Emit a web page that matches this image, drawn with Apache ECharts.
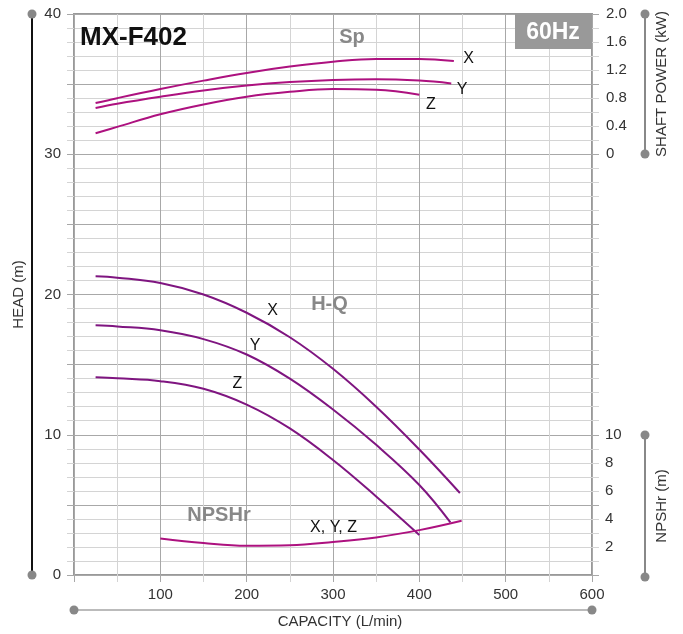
<!DOCTYPE html>
<html><head><meta charset="utf-8">
<script src="https://cdn.jsdelivr.net/npm/echarts@6/dist/echarts.min.js"></script>
<style>html,body{margin:0;padding:0;background:#fff}#c{width:683px;height:634px}</style>
</head><body><div id="c"></div>
<script>
// ---- tick labels ----
const capacityTicks = [100, 200, 300, 400, 500, 600];
const headTicks = [0, 10, 20, 30, 40];
const powerTicks = [0, 0.4, 0.8, 1.2, 1.6, 2.0];
const npshTicks = [2, 4, 6, 8, 10];

// ---- H-Q curves (capacity L/min, head m) ----
const hqQ_X = [25, 50, 100, 150, 200, 250, 300, 350, 400, 447];
const hqH_X = [21.3, 21.2, 20.82, 20.0, 18.7, 16.95, 14.7, 12.0, 8.95, 5.85];
const hqQ_Y = [25, 50, 100, 150, 200, 250, 300, 350, 400, 436];
const hqH_Y = [17.8, 17.72, 17.45, 16.82, 15.72, 14.0, 11.8, 9.28, 6.42, 3.75];
const hqQ_Z = [25, 50, 100, 150, 200, 250, 300, 350, 400];
const hqH_Z = [14.1, 14.02, 13.82, 13.28, 12.15, 10.45, 8.2, 5.6, 2.85];

// ---- Shaft power curves (capacity L/min, kW) ----
const spQ_X = [25, 50, 100, 150, 200, 250, 300, 350, 400, 440];
const spP_X = [0.73, 0.80, 0.93, 1.05, 1.16, 1.25, 1.32, 1.36, 1.36, 1.33];
const spQ_Y = [25, 50, 100, 150, 200, 250, 300, 350, 400, 437];
const spP_Y = [0.66, 0.72, 0.82, 0.91, 0.98, 1.03, 1.06, 1.07, 1.05, 1.01];
const spQ_Z = [25, 50, 100, 150, 200, 250, 300, 350, 400];
const spP_Z = [0.30, 0.39, 0.57, 0.71, 0.82, 0.89, 0.93, 0.92, 0.85];

// ---- NPSHr (capacity L/min, m) ----
const npQ = [100, 150, 200, 250, 300, 350, 400, 449];
const npH = [2.6, 2.28, 2.09, 2.12, 2.35, 2.68, 3.2, 3.87];

const pair = (q, v) => q.map((x, i) => [x, v[i]]);
const FONT = '"Liberation Sans", Arial, Helvetica, sans-serif';
const HQ_COLOR = '#7f1580';
const SP_COLOR = '#ad117f';
const inList = (list, v) => list.some(t => Math.abs(t - v) < 1e-6);

const chart = echarts.init(document.getElementById('c'), null, {renderer: 'canvas'});

const labelStyle = {color: '#333', fontSize: 15, fontFamily: FONT};
const nameStyle = {color: '#333', fontSize: 15, fontFamily: FONT};

function lineSeries(name, data, yIdx, color) {
  return {
    name: name, type: 'line', xAxisIndex: 0, yAxisIndex: yIdx,
    data: data, smooth: 0.4, showSymbol: false, symbol: 'none',
    lineStyle: {color: color, width: 2}, itemStyle: {color: color}, z: 5, silent: true
  };
}

function textEl(str, x, y, size, weight, color, align) {
  return {
    type: 'text', x: x, y: y, z: 100, silent: true,
    style: {
      text: str, fill: color, font: weight + ' ' + size + 'px ' + FONT,
      align: align || 'center', verticalAlign: 'middle',
      textAlign: align || 'center', textVerticalAlign: 'middle'
    }
  };
}

const MINOR = '#d4d4d4';
const MAJOR = '#a8a8a8';

const option = {
  animation: false,
  backgroundColor: '#fff',
  grid: [
    {left: 74, top: 14, width: 518, height: 561, show: true, borderColor: '#999', borderWidth: 2, backgroundColor: 'transparent'},
    {left: 644, top: 14, width: 1, height: 140},
    {left: 644, top: 435, width: 1, height: 142}
  ],
  xAxis: [
    {
      gridIndex: 0, type: 'value', min: 0, max: 600, interval: 100, position: 'bottom',
      axisLine: {show: false, onZero: false},
      axisTick: {show: true, length: 7, lineStyle: {color: MAJOR}},
      minorTick: {show: true, splitNumber: 2, length: 7, lineStyle: {color: MINOR}},
      splitLine: {show: true, lineStyle: {color: MAJOR, width: 1}},
      minorSplitLine: {show: true, lineStyle: {color: MINOR, width: 1}},
      axisLabel: Object.assign({margin: 12, formatter: v => inList(capacityTicks, v) ? String(v) : ''}, labelStyle)
    },
    {
      gridIndex: 0, type: 'value', min: 0, max: 600, position: 'bottom', offset: 35,
      axisLine: {show: true, onZero: false, symbol: ['circle', 'circle'], symbolSize: [9, 9], lineStyle: {color: '#888', width: 2}},
      axisTick: {show: false}, axisLabel: {show: false}, splitLine: {show: false}
    },
    {
      gridIndex: 0, type: 'value', min: 0, max: 600, position: 'bottom', offset: 35,
      axisLine: {show: true, onZero: false, lineStyle: {color: '#bbb', width: 2}},
      axisTick: {show: false}, axisLabel: {show: false}, splitLine: {show: false},
      name: 'CAPACITY (L/min)', nameLocation: 'middle', nameGap: 4,
      nameTextStyle: Object.assign({padding: [0, 0, 0, 14]}, nameStyle)
    },
    {gridIndex: 1, type: 'value', show: false, min: 0, max: 1},
    {gridIndex: 2, type: 'value', show: false, min: 0, max: 1}
  ],
  yAxis: [
    { // 0 head main
      gridIndex: 0, type: 'value', min: 0, max: 40, interval: 5, position: 'left',
      axisLine: {show: false, onZero: false},
      axisTick: {show: true, length: 7, lineStyle: {color: MAJOR}},
      minorTick: {show: true, splitNumber: 5, length: 7, lineStyle: {color: MINOR}},
      splitLine: {show: true, lineStyle: {color: MAJOR, width: 1}},
      minorSplitLine: {show: true, lineStyle: {color: MINOR, width: 1}},
      axisLabel: Object.assign({margin: 13, formatter: v => inList(headTicks, v) ? String(v) : ''}, labelStyle)
    },
    { // 1 left dots
      gridIndex: 0, type: 'value', min: 0, max: 40, position: 'left', offset: 42,
      axisLine: {show: true, onZero: false, symbol: ['circle', 'circle'], symbolSize: [9, 9], lineStyle: {color: '#888', width: 2}},
      axisTick: {show: false}, axisLabel: {show: false}, splitLine: {show: false}
    },
    { // 2 left black line + name
      gridIndex: 0, type: 'value', min: 0, max: 40, position: 'left', offset: 42,
      axisLine: {show: true, onZero: false, lineStyle: {color: '#111', width: 2}},
      axisTick: {show: false}, axisLabel: {show: false}, splitLine: {show: false},
      name: 'HEAD (m)', nameLocation: 'middle', nameGap: 6, nameTextStyle: nameStyle
    },
    { // 3 right ticks
      gridIndex: 0, type: 'value', min: 0, max: 40, interval: 5, position: 'right',
      axisLine: {show: false, onZero: false},
      axisTick: {show: true, length: 7, lineStyle: {color: MAJOR}},
      minorTick: {show: true, splitNumber: 5, length: 7, lineStyle: {color: MINOR}},
      splitLine: {show: false}, axisLabel: {show: false}
    },
    { // 4 shaft power (kW)
      gridIndex: 0, type: 'value', min: -6, max: 2, interval: 0.4, position: 'right',
      axisLine: {show: false, onZero: false}, axisTick: {show: false}, splitLine: {show: false},
      axisLabel: Object.assign({margin: 14, formatter: v => {
        if (!inList(powerTicks, v)) return '';
        return Math.abs(v) < 1e-6 ? '0' : v.toFixed(1);
      }}, labelStyle)
    },
    { // 5 NPSHr (m)
      gridIndex: 0, type: 'value', min: 0, max: 40, interval: 2, position: 'right',
      axisLine: {show: false, onZero: false}, axisTick: {show: false}, splitLine: {show: false},
      axisLabel: Object.assign({margin: 13, formatter: v => inList(npshTicks, v) ? String(v) : ''}, labelStyle)
    },
    { // 6 shaft power bracket
      gridIndex: 1, type: 'value', min: 0, max: 1, position: 'right',
      axisLine: {show: true, onZero: false, symbol: ['circle', 'circle'], symbolSize: [9, 9], lineStyle: {color: '#888', width: 2}},
      axisTick: {show: false}, axisLabel: {show: false}, splitLine: {show: false},
      name: 'SHAFT POWER (kW)', nameLocation: 'middle', nameGap: 9, nameTextStyle: nameStyle
    },
    { // 7 NPSHr bracket
      gridIndex: 2, type: 'value', min: 0, max: 1, position: 'right',
      axisLine: {show: true, onZero: false, symbol: ['circle', 'circle'], symbolSize: [9, 9], lineStyle: {color: '#888', width: 2}},
      axisTick: {show: false}, axisLabel: {show: false}, splitLine: {show: false},
      name: 'NPSHr (m)', nameLocation: 'middle', nameGap: 9, nameTextStyle: nameStyle
    }
  ],
  series: [
    lineSeries('Sp X', pair(spQ_X, spP_X), 4, SP_COLOR),
    lineSeries('Sp Y', pair(spQ_Y, spP_Y), 4, SP_COLOR),
    lineSeries('Sp Z', pair(spQ_Z, spP_Z), 4, SP_COLOR),
    lineSeries('H-Q X', pair(hqQ_X, hqH_X), 0, HQ_COLOR),
    lineSeries('H-Q Y', pair(hqQ_Y, hqH_Y), 0, HQ_COLOR),
    lineSeries('H-Q Z', pair(hqQ_Z, hqH_Z), 0, HQ_COLOR),
    lineSeries('NPSHr', pair(npQ, npH), 5, SP_COLOR)
  ],
  graphic: [
    textEl('MX-F402', 80, 38, 26, 'bold', '#111', 'left'),
    {type: 'rect', x: 515, y: 14, z: 99, silent: true, shape: {width: 77, height: 35}, style: {fill: '#999'}},
    textEl('60Hz', 553, 33, 23, 'bold', '#fff'),
    textEl('Sp', 352, 37, 20, 'bold', '#888'),
    textEl('H-Q', 329.5, 304, 20, 'bold', '#888'),
    textEl('NPSHr', 219, 515, 20, 'bold', '#888'),
    textEl('X', 468.5, 59, 16, 'normal', '#111'),
    textEl('Y', 462, 90, 16, 'normal', '#111'),
    textEl('Z', 431, 104.5, 16, 'normal', '#111'),
    textEl('X', 272.5, 310.5, 16, 'normal', '#111'),
    textEl('Y', 255, 346, 16, 'normal', '#111'),
    textEl('Z', 237.5, 383.5, 16, 'normal', '#111'),
    textEl('X, Y, Z', 333.5, 528, 16, 'normal', '#111')
  ]
};
chart.setOption(option);
</script>
</body></html>
